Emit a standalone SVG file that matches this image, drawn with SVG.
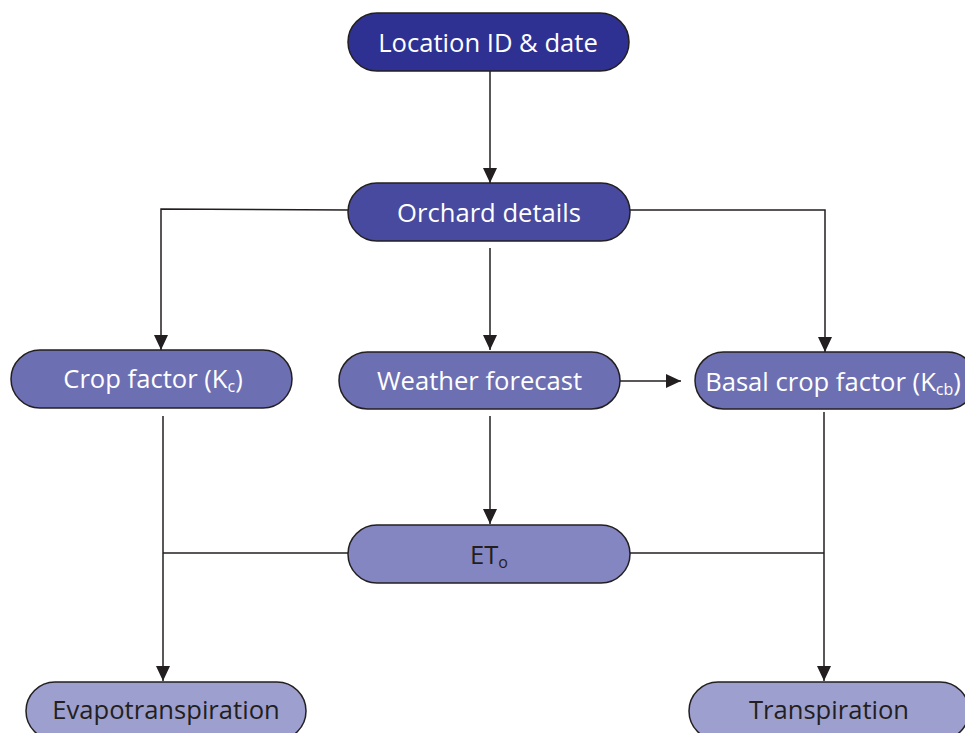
<svg xmlns="http://www.w3.org/2000/svg" width="965" height="733" viewBox="0 0 965 733">
<style>
.n{stroke:#231f20;stroke-width:1.5}
.t{font-family:"Open Sans","Liberation Sans",sans-serif;font-size:25.6px;text-anchor:middle}
.w{fill:#ffffff}
.d{fill:#231f20}
.c{fill:none;stroke:#231f20;stroke-width:1.5}
</style>
<defs>
<marker id="a" markerWidth="15" markerHeight="14" refX="15" refY="7" viewBox="0 0 15 14" orient="auto" markerUnits="userSpaceOnUse">
<path d="M0,0 L15,7 L0,14 Z" fill="#231f20"/>
</marker>
</defs>
<rect width="965" height="733" fill="#ffffff"/>
<g id="connectors">
<path class="c" d="M490,71 V183" marker-end="url(#a)"/>
<path class="c" d="M348,210 L161,209 V350" marker-end="url(#a)"/>
<path class="c" d="M630,210 L825,210 V352" marker-end="url(#a)"/>
<path class="c" d="M490,248 V350" marker-end="url(#a)"/>
<path class="c" d="M620,381 H681" marker-end="url(#a)"/>
<path class="c" d="M490,416 V524" marker-end="url(#a)"/>
<path class="c" d="M163,416 V681" marker-end="url(#a)"/>
<path class="c" d="M348,553 H163"/>
<path class="c" d="M824,412 V681" marker-end="url(#a)"/>
<path class="c" d="M630,553 H824"/>
</g>
<g id="location">
<rect class="n" x="348" y="13" width="281" height="58" rx="29" fill="#2e3192"/>
<text class="t w" x="488" y="51.5">Location ID &amp; date</text>
</g>
<g id="orchard">
<rect class="n" x="348" y="183" width="282" height="58" rx="29" fill="#474a9e"/>
<text class="t w" x="489" y="221.5">Orchard details</text>
</g>
<g id="cropfactor">
<rect class="n" x="11" y="350" width="281" height="58" rx="29" fill="#6d6fb3"/>
<text class="t w" x="153" y="387.5">Crop factor (K<tspan font-size="16" dy="4">c</tspan><tspan dy="-4">)</tspan></text>
</g>
<g id="weather">
<rect class="n" x="339" y="352" width="281" height="57" rx="28.5" fill="#6d6fb3"/>
<text class="t w" x="479.5" y="389.5">Weather forecast</text>
</g>
<g id="basal">
<rect class="n" x="695" y="352" width="281" height="57" rx="28.5" fill="#6d6fb3"/>
<text class="t w" x="833" y="390.5">Basal crop factor (K<tspan font-size="16" dy="4">cb</tspan><tspan dy="-4">)</tspan></text>
</g>
<g id="eto">
<rect class="n" x="348" y="525" width="282" height="58" rx="29" fill="#8486c1"/>
<text class="t d" x="489" y="563.5">ET<tspan font-size="16" dy="4">o</tspan></text>
</g>
<g id="evapo">
<rect class="n" x="26" y="682" width="280" height="58" rx="29" fill="#9d9fce"/>
<text class="t d" x="166" y="718.5">Evapotranspiration</text>
</g>
<g id="transp">
<rect class="n" x="689" y="682" width="280" height="58" rx="29" fill="#9d9fce"/>
<text class="t d" x="829" y="718.5">Transpiration</text>
</g>
</svg>
